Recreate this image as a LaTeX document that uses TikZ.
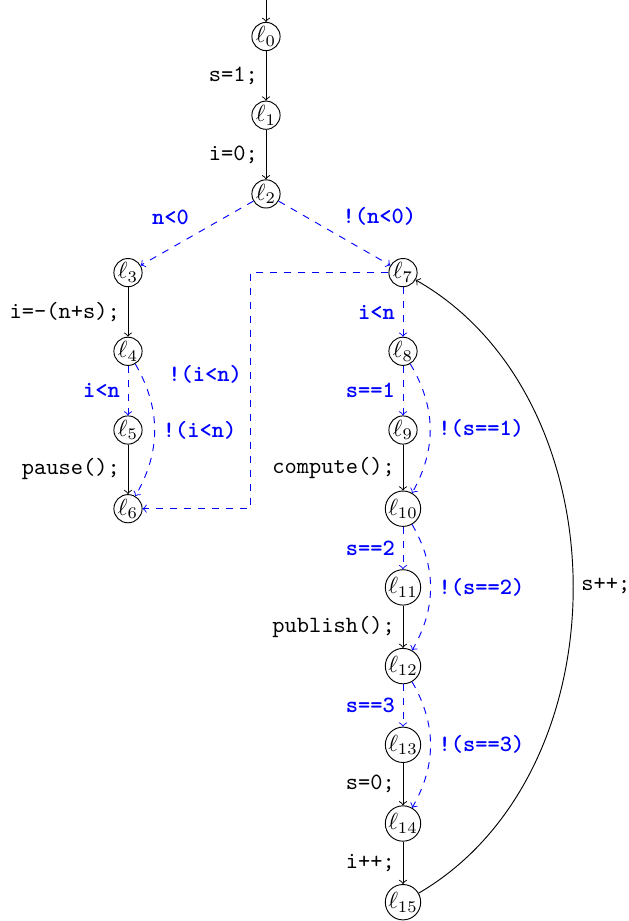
\documentclass[tikz,border=0pt]{standalone}
\begin{document}
\begin{tikzpicture}[
  x=0.4292pt, y=-0.4292pt,
  loc/.style={draw, circle, inner sep=0pt},
  flow/.style={->},
  cond/.style={->, dashed, blue},
  stmt/.style={font=\ttfamily},
  guard/.style={font=\ttfamily\bfseries, text=blue},
]
\useasboundingbox (0,0) rectangle (629,921);

% control locations
\node[loc] (l0)  at (266, 36.5)  {$\ell_0$};
\node[loc] (l1)  at (266, 115.2) {$\ell_1$};
\node[loc] (l2)  at (266, 193.9) {$\ell_2$};
\node[loc] (l3)  at (128, 272.6) {$\ell_3$};
\node[loc] (l4)  at (128, 351.3) {$\ell_4$};
\node[loc] (l5)  at (128, 430.0) {$\ell_5$};
\node[loc] (l6)  at (128, 508.7) {$\ell_6$};
\node[loc] (l7)  at (403, 272.6) {$\ell_7$};
\node[loc] (l8)  at (403, 351.3) {$\ell_8$};
\node[loc] (l9)  at (403, 430.0) {$\ell_9$};
\node[loc] (l10) at (403, 508.7) {$\ell_{10}$};
\node[loc] (l11) at (403, 587.4) {$\ell_{11}$};
\node[loc] (l12) at (403, 666.1) {$\ell_{12}$};
\node[loc] (l13) at (403, 744.8) {$\ell_{13}$};
\node[loc] (l14) at (403, 823.5) {$\ell_{14}$};
\node[loc] (l15) at (403, 902.2) {$\ell_{15}$};

% entry and corner points
\coordinate (entry) at (266, 0);
\coordinate (c1) at (250, 272.6);
\coordinate (c2) at (250, 508.7);

% entry edge
\draw[flow] (entry) -- (l0);

% straight-line statements
\draw[flow] (l0) -- node[left, stmt] {s=1;} (l1);
\draw[flow] (l1) -- node[left, stmt] {i=0;} (l2);
\draw[flow] (l3) -- node[left, stmt] {i=-(n+s);} (l4);
\draw[flow] (l5) -- node[left, stmt] {pause();} (l6);
\draw[flow] (l9) -- node[left, stmt] {compute();} (l10);
\draw[flow] (l11) -- node[left, stmt] {publish();} (l12);
\draw[flow] (l13) -- node[left, stmt] {s=0;} (l14);
\draw[flow] (l14) -- node[left, stmt] {i++;} (l15);

% branch on n
\draw[cond] (l2) -- node[above left, guard] {n<0} (l3);
\draw[cond] (l2) -- node[above right, guard] {!(n<0)} (l7);

% first loop
\draw[cond] (l4) -- node[left, guard] {i<n} (l5);
\draw[cond] (l4) to[bend left=30] node[right, guard] {!(i<n)} (l6);

% second loop
\draw[cond] (l7) -- node[left, guard] {i<n} (l8);
\draw[cond] (l7) -- (c1) -- node[left, guard, pos=0.43] {!(i<n)} (c2) -- (l6);

\draw[cond] (l8) -- node[left, guard] {s==1} (l9);
\draw[cond] (l8) to[bend left=30] node[right, guard] {!(s==1)} (l10);
\draw[cond] (l10) -- node[left, guard] {s==2} (l11);
\draw[cond] (l10) to[bend left=30] node[right, guard] {!(s==2)} (l12);
\draw[cond] (l12) -- node[left, guard] {s==3} (l13);
\draw[cond] (l12) to[bend left=30] node[right, guard] {!(s==3)} (l14);

% back edge
\draw[flow] (l15) to[bend right=60] node[right, stmt] {s++;} (l7);
\end{tikzpicture}
\end{document}
